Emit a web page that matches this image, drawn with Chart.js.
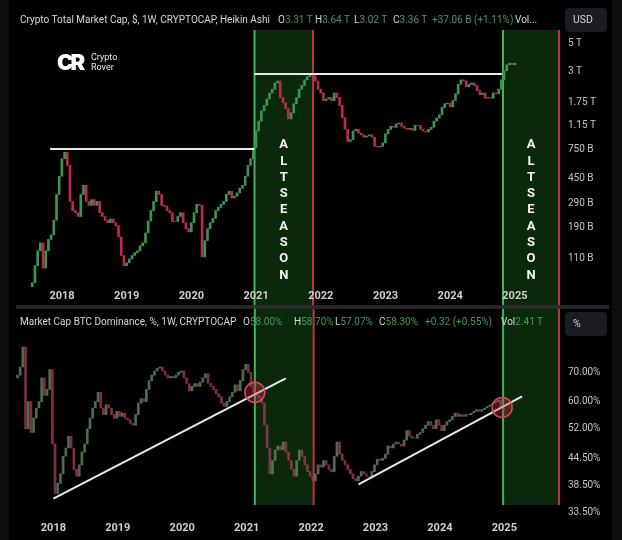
<!DOCTYPE html>
<html>
<head>
<meta charset="utf-8">
<script src="https://cdn.jsdelivr.net/npm/chart.js@4.4.1/dist/chart.umd.min.js"></script>
<style>
  html, body { margin: 0; padding: 0; background: #000; }
  body { width: 622px; height: 540px; position: relative; overflow: hidden; font-family: Roboto, "Noto Sans", sans-serif; }
  .edge { position: absolute; top: 0; width: 9px; height: 540px; background: #0e0e0f; }
  canvas { position: absolute; left: 0; }
  #top { top: 0; }
  #bot { top: 307px; }
  .t { position: absolute; font-size: 10px; color: #d6d6d6; white-space: nowrap; line-height: 14px; }
  .g { color: #3f9c5c; }
  .btn { position: absolute; left: 565px; width: 42px; height: 24px; background: #1b1c21; border-radius: 4px;
         color: #cfd0d4; font-size: 10.5px; line-height: 24px; padding-left: 8px; box-sizing: border-box; }
  .sep { position: absolute; left: 16px; top: 305px; width: 593px; height: 4px; background: #2a2b2d; opacity: 0.9; }
  .mark { position: absolute; left: 57px; top: 49px; font-size: 22px; font-weight: 900; color: #fff; letter-spacing: -3px; font-family: Inter, Roboto, sans-serif; }
  .brand { position: absolute; left: 91px; top: 52px; font-size: 9px; line-height: 10px; color: #e8e8e8; }
</style>
</head>
<body>
<div class="edge" style="left:0"></div>
<div class="edge" style="right:0;width:10px"></div>
<canvas id="top" width="622" height="307"></canvas>
<canvas id="bot" width="622" height="233"></canvas>
<div class="sep"></div>

<div class="t" style="left:20px;top:13px">Crypto Total Market Cap, $, 1W, CRYPTOCAP, Heikin Ashi</div>
<div class="t" style="left:278px;top:13px">O<span class="g">3.31 T</span></div>
<div class="t" style="left:315px;top:13px">H<span class="g">3.64 T</span></div>
<div class="t" style="left:354px;top:13px">L<span class="g">3.02 T</span></div>
<div class="t" style="left:393px;top:13px">C<span class="g">3.36 T</span></div>
<div class="t g" style="left:432px;top:13px">+37.06 B (+1.11%)</div>
<div class="t" style="left:515px;top:13px">Vol...</div>
<div class="btn" style="top:8px">USD</div>

<div class="t" style="left:20px;top:315px">Market Cap BTC Dominance, %, 1W, CRYPTOCAP</div>
<div class="t" style="left:243px;top:315px">O<span class="g">58.00%</span></div>
<div class="t" style="left:294px;top:315px">H<span class="g">58.70%</span></div>
<div class="t" style="left:335px;top:315px">L<span class="g">57.07%</span></div>
<div class="t" style="left:379px;top:315px">C<span class="g">58.30%</span></div>
<div class="t g" style="left:425px;top:315px">+0.32 (+0.55%)</div>
<div class="t" style="left:501px;top:315px">Vol<span class="g">2.41 T</span></div>
<div class="btn" style="top:312px">%</div>

<div class="mark">CR</div>
<div class="brand">Crypto<br>Rover</div>

<script>
// half-monthly readings
const step = 1 / 24;
const years = [2018, 2019, 2020, 2021, 2022, 2023, 2024, 2025];

// total market cap, billions USD
const capStart = 2017.54;
const capOpen0 = 66;
const capClose = [
  71, 96, 125, 144, 92, 125, 153, 166, 215, 340, 470, 640, 720, 570, 300, 255, 246, 230, 340, 400,
  300, 280, 310, 280, 300, 246, 230, 215, 206, 220, 206, 195, 160, 115, 96, 101, 108, 115, 121, 125,
  137, 144, 172, 212, 255, 300, 360, 340, 280, 275, 255, 246, 210, 210, 230, 246, 206, 185, 175, 206,
  246, 285, 280, 112, 150, 185, 206, 222, 255, 270, 285, 300, 340, 360, 320, 330, 350, 380, 400, 470,
  570, 640, 780, 1050, 1250, 1500, 1650, 1850, 2060, 2200, 2460, 2550, 1900, 1730, 1560, 1300, 1450, 1700, 1900, 2200,
  2350, 2600, 2750, 2850, 2800, 2550, 2200, 2060, 1800, 1850, 1900, 1800, 2060, 1900, 1650, 1330, 1080, 870, 900, 1050,
  1080, 1010, 980, 940, 960, 980, 940, 800, 790, 800, 850, 1000, 1080, 1140, 1120, 1190, 1210, 1140, 1100, 1080,
  1100, 1060, 1160, 1160, 1080, 1050, 1030, 1080, 1120, 1250, 1320, 1400, 1590, 1700, 1720, 1610, 1800, 2030, 2400, 2600,
  2550, 2300, 2400, 2460, 2350, 2150, 2000, 2060, 1880, 1900, 1880, 2060, 2030, 2200, 2600, 3050, 3400, 3500, 3400, 3500
];
const capTicks = [110, 190, 290, 450, 750, 1150, 1750, 3000, 5000];
const capBands = [[2020.975, 2021.879], [2024.816, 2025.682]];
const capLevels = [[2017.815, 2020.975, 762], [2020.975, 2024.80, 2885]];

// BTC dominance, percent
const domStart = 2017.443;
const domOpen0 = 68;
const domClose = [
  69, 72, 80, 52, 60, 51, 55, 58, 60, 68, 62, 64, 71, 48, 37, 39, 41, 45, 47, 50,
  47, 42, 40.5, 43, 46, 48, 52, 55, 58, 60, 63, 58, 56, 59, 58, 56, 55, 57, 55.5, 56.5,
  55, 54.5, 53.5, 53, 56, 59.5, 61, 60, 64, 67, 69, 70.5, 71.5, 72, 70.5, 69, 68, 68.5, 68, 69,
  70, 70.5, 68, 66, 63.5, 65, 66, 65, 66.5, 68, 69.5, 66, 65, 64, 62.5, 61.5, 59.5, 58.5, 60, 61.5,
  63, 65.5, 63.5, 67, 71, 73, 70, 65, 63, 62, 61, 59.5, 53, 47, 41, 44, 46.5, 47.5, 46.5, 48.5,
  46, 44, 42, 40.5, 44, 46.5, 45, 43, 41.5, 40.5, 39.5, 41, 43, 42.5, 44, 43, 42, 41.5, 45, 48.5,
  45.5, 44, 43, 42, 41, 40, 39.5, 40.5, 41.5, 41, 40.5, 40.5, 41.5, 43, 44.3, 44, 44.5, 45.5, 47.5, 47,
  48, 48.5, 48, 47.5, 49, 51.5, 50, 49.5, 49.5, 50.5, 51, 52, 53, 54, 53, 52, 54.5, 53, 51.5, 53,
  54, 54.5, 55.5, 56.5, 55.5, 56, 55.5, 56, 56, 56.5, 57, 57.5, 57, 57.5, 58, 58.5, 59, 59.5, 60, 60.5,
  58, 57.5
];
const domTicks = [33.5, 38.5, 44.5, 52, 60, 70];
const domBands = [[2021.127, 2022.040], [2024.981, 2025.848]];
const domTrends = [[2018.0, 36.0, 2021.607, 67.8], [2022.737, 38.8, 2025.276, 61.7]];
const domCircles = [[2021.127, 63.0], [2024.966, 58.2]];

function candles(start, open0, closes) {
  return closes.map((c, i) => {
    const o = i ? closes[i - 1] : open0;
    return { x: start + i * step, y: [o, c], up: c >= o };
  });
}

const bandPlugin = {
  id: 'bands',
  beforeDraw(chart, args, o) {
    const { ctx, scales: { x, y } } = chart;
    const top = o.topValue != null ? y.getPixelForValue(o.topValue) : 0;
    const bottom = o.bottomValue != null ? y.getPixelForValue(o.bottomValue) : chart.height;
    ctx.save();
    o.list.forEach(([a, b]) => {
      const xa = x.getPixelForValue(a), xb = x.getPixelForValue(b);
      ctx.fillStyle = '#0b280d';
      ctx.fillRect(xa, top, xb - xa, bottom - top);
      ctx.fillStyle = '#3cb954';
      ctx.fillRect(xa - 1, top, 2, bottom - top);
      ctx.fillStyle = '#c0323f';
      ctx.fillRect(xb - 1, top, 2, bottom - top);
    });
    ctx.restore();
  },
  afterDatasetsDraw(chart, args, o) {
    if (!o.label) return;
    const { ctx, scales: { x } } = chart;
    ctx.save();
    ctx.fillStyle = '#f2f2f2';
    ctx.font = 'bold 13px Roboto, sans-serif';
    ctx.textAlign = 'center';
    ctx.textBaseline = 'middle';
    o.list.forEach(([a, b]) => {
      const cx = (x.getPixelForValue(a) + x.getPixelForValue(b)) / 2;
      [...o.label].forEach((ch, i) => ctx.fillText(ch, cx, o.labelY + i * 16.3));
    });
    ctx.restore();
  }
};

function makeChart(id, cfg) {
  const candleData = candles(cfg.start, cfg.open0, cfg.closes);
  new Chart(document.getElementById(id), {
    type: 'bar',
    data: {
      datasets: [
        {
          type: 'bar',
          data: candleData,
          barThickness: 2,
          backgroundColor: c => (c.raw && c.raw.up ? cfg.upColor : cfg.downColor),
          borderWidth: 0,
          order: 3
        },
        ...cfg.lines.map(l => ({
          type: 'line',
          data: l,
          borderColor: '#e9e9e9',
          borderWidth: 2,
          pointRadius: 0,
          order: 2
        })),
        ...(cfg.circles ? [{
          type: 'line',
          data: cfg.circles.map(([t, v]) => ({ x: t, y: v })),
          showLine: false,
          pointRadius: 10,
          pointBackgroundColor: 'rgba(205,45,70,0.35)',
          pointBorderColor: '#d8485f',
          pointBorderWidth: 1.5,
          order: 1
        }] : [])
      ]
    },
    options: {
      responsive: false,
      animation: false,
      layout: { padding: { top: cfg.padTop, left: 10, right: 0, bottom: 0 } },
      plugins: {
        legend: { display: false },
        tooltip: { enabled: false },
        bands: cfg.bands
      },
      scales: {
        x: {
          type: 'linear',
          min: cfg.xMin,
          max: cfg.xMax,
          offset: false,
          grid: { display: false, drawTicks: false },
          border: { display: false },
          ticks: {
            color: '#cfcfcf',
            font: { family: 'Roboto', size: 11, weight: 'bold' },
            padding: cfg.xPad,
            maxRotation: 0,
            autoSkip: false,
            callback: v => String(v)
          },
          afterBuildTicks: s => { s.ticks = years.map(v => ({ value: v })); },
          afterFit: s => { s.height = cfg.xHeight; }
        },
        y: {
          type: 'logarithmic',
          position: 'right',
          min: cfg.yMin,
          max: cfg.yMax,
          grid: { display: false, drawTicks: false },
          border: { display: false },
          ticks: {
            color: '#c4c4c4',
            font: { family: 'Roboto', size: 10 },
            padding: 8,
            autoSkip: false,
            callback: cfg.fmt
          },
          afterBuildTicks: s => { s.ticks = cfg.ticks.map(v => ({ value: v })); },
          afterFit: s => { s.width = 62; }
        }
      }
    },
    plugins: [bandPlugin]
  });
}

makeChart('top', {
  start: capStart, open0: capOpen0, closes: capClose,
  upColor: '#3c944f', downColor: '#bd284c',
  lines: capLevels.map(([a, b, v]) => [{ x: a, y: v }, { x: b, y: v }]),
  padTop: 30, xHeight: 19, xPad: 2,
  xMin: 2017.196, xMax: 2025.697,
  yMin: 64.6, yMax: 6300,
  ticks: capTicks,
  fmt: v => (v >= 1000 ? (v / 1000) + ' T' : v + ' B'),
  bands: { list: capBands, topValue: 6300, bottomValue: null, label: 'ALTSEASON', labelY: 145 }
});

makeChart('bot', {
  start: domStart, open0: domOpen0, closes: domClose,
  upColor: 'rgba(92,138,94,0.8)', downColor: 'rgba(160,58,84,0.8)',
  lines: domTrends.map(([a, va, b, vb]) => [{ x: a, y: va }, { x: b, y: vb }]),
  circles: domCircles,
  padTop: 28, xHeight: 24, xPad: 6,
  xMin: 2017.350, xMax: 2025.864,
  yMin: 32.85, yMax: 85.2,
  ticks: domTicks,
  fmt: v => v.toFixed(2) + '%',
  bands: { list: domBands, topValue: null, bottomValue: 34.8 }
});
</script>
</body>
</html>
